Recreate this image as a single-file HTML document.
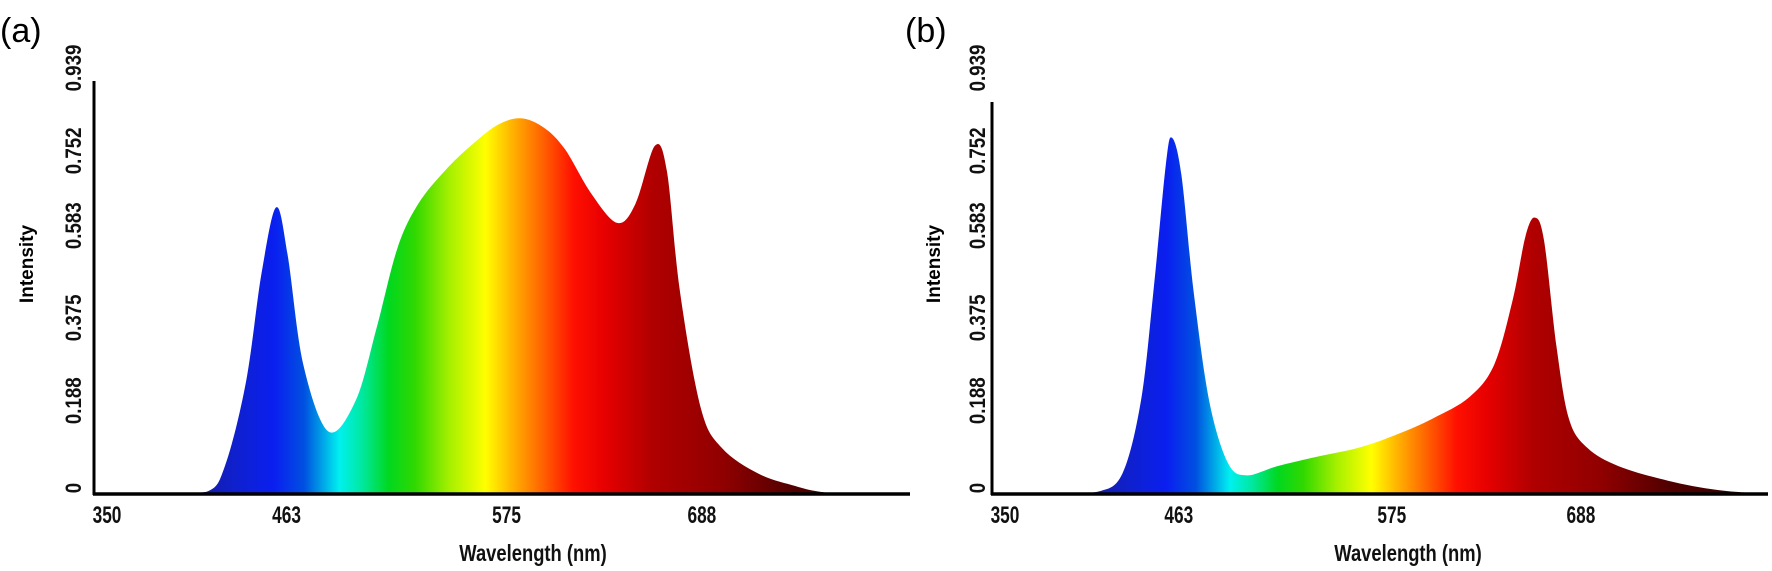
<!DOCTYPE html>
<html><head><meta charset="utf-8">
<style>
html,body{margin:0;padding:0;background:#fff;}
svg{display:block;font-family:"Liberation Sans",sans-serif;}
</style></head>
<body>
<svg id="chart" width="1772" height="571" viewBox="0 0 1772 571" xmlns="http://www.w3.org/2000/svg"></svg>
<script>
// ---- data ----
const xTicks = [350, 463, 575, 688];
const xTickPos = [350, 452, 577, 688];
const yTicks = [0, 0.188, 0.375, 0.583, 0.752, 0.939];
const wavelengthsA = [380,406.6,417,428.9,437.8,446.1,452.6,461.5,475.8,491.3,503.2,515.1,526.9,541.8,556.7,571.5,584.9,598.2,610.2,625,639.9,650.3,661.3,668.1,675.5,687.4,699.3,720.1,741,755,770,800];
const intensityA = [0,0.005,0.063,0.252,0.498,0.647,0.540,0.293,0.141,0.211,0.375,0.556,0.655,0.729,0.786,0.832,0.848,0.827,0.778,0.679,0.612,0.655,0.786,0.729,0.458,0.194,0.104,0.046,0.018,0.005,0.001,0];
const wavelengthsB = [380,404.3,418.9,429.8,437.1,444.4,448,453.5,460.7,469.8,480.7,491.7,509.9,531.7,557.2,579,600.8,622.6,637.2,648.1,655.4,660.9,666.3,673.6,680.9,691.8,710,739.1,768.2,797.3];
const intensityB = [0,0.005,0.046,0.211,0.457,0.745,0.804,0.72,0.457,0.211,0.071,0.042,0.063,0.083,0.104,0.133,0.170,0.219,0.293,0.441,0.581,0.624,0.573,0.334,0.170,0.104,0.063,0.030,0.009,0];

const NS = "http://www.w3.org/2000/svg";
const svg = document.getElementById('chart');
function mk(tag, attrs, parent){const e=document.createElementNS(NS,tag);for(const k in attrs)e.setAttribute(k,attrs[k]);(parent||svg).appendChild(e);return e;}

const panels = [
  {id:'a', label:'(a)', axisX:94, axisTop:81, axisRight:910, x0:107, k:1.760, lx:0, ly:42, titleX:533, intX:26, lblX:73, wl:wavelengthsA, iv:intensityA},
  {id:'b', label:'(b)', axisX:992, axisTop:102, axisRight:1768, x0:1005, k:1.704, lx:905, ly:42, titleX:1408, intX:933, lblX:977, wl:wavelengthsB, iv:intensityB}
];
const baseY = 494;
function yS(v){return baseY - v*443;}

const stops = [[395,'#1a1a90'],[420,'#1020c8'],[445,'#0a1ff0'],[462,'#0050e0'],[474,'#00b0e8'],[482,'#00f0f0'],[495,'#00e8a0'],[510,'#00d820'],[525,'#30d800'],[545,'#a8f000'],[565,'#ffff00'],[580,'#ffb400'],[598,'#ff6000'],[615,'#ff1000'],[632,'#e80000'],[660,'#b00000'],[700,'#900000'],[740,'#500000'],[800,'#2a0000']];

const defs = mk('defs',{});
panels.forEach(p=>{
  const xS = w => p.x0 + (w-350)*p.k;
  const g = mk('linearGradient',{id:'grad-'+p.id,gradientUnits:'userSpaceOnUse',x1:xS(350),y1:0,x2:xS(810),y2:0},defs);
  stops.forEach(s=>{mk('stop',{offset:((s[0]-350)/460).toFixed(4),'stop-color':s[1]},g);});

  const grp = mk('g',{});
  
  

  const pts = p.wl.map((w,i)=>[xS(w), yS(p.iv[i])]);
  let d = `M${pts[0][0]},${baseY} L${pts[0][0]},${pts[0][1]}`;
  for(let i=0;i<pts.length-1;i++){
    const p0=pts[Math.max(0,i-1)],p1=pts[i],p2=pts[i+1],p3=pts[Math.min(pts.length-1,i+2)];
    const c1=[p1[0]+(p2[0]-p0[0])/6, p1[1]+(p2[1]-p0[1])/6];
    const c2=[p2[0]-(p3[0]-p1[0])/6, p2[1]-(p3[1]-p1[1])/6];
    d+=` C${c1[0].toFixed(1)},${Math.min(baseY,c1[1]).toFixed(1)} ${c2[0].toFixed(1)},${Math.min(baseY,c2[1]).toFixed(1)} ${p2[0].toFixed(1)},${p2[1].toFixed(1)}`;
  }
  d+=` L${pts[pts.length-1][0]},${baseY} Z`;
  const area = mk('path',{d:d,fill:'url(#grad-'+p.id+')'},grp);
  
  

  const ya = mk('line',{x1:p.axisX,y1:p.axisTop,x2:p.axisX,y2:baseY+1,stroke:'#000','stroke-width':3},grp);
  
  
  const xa = mk('line',{x1:p.axisX-1,y1:baseY,x2:p.axisRight,y2:baseY,stroke:'#000','stroke-width':3.5},grp);
  
  

  xTicks.forEach((t,i)=>{
    const px = xS(xTickPos[i]);
    const tx = mk('text',{x:px,y:523,'text-anchor':'middle','font-size':24,'font-weight':'bold',fill:'#111',transform:`translate(${px},0) scale(0.72,1) translate(${-px},0)`},grp);
    tx.textContent=t;
    
    
  });
  yTicks.forEach(t=>{
    const cy = yS(t) - (t===0?6:10);
    const ty = mk('text',{x:0,y:0,'text-anchor':'middle','font-size':22,'font-weight':'bold',fill:'#111',transform:`translate(${p.lblX+8},${cy}) rotate(-90) scale(0.85,1)`},grp);
    ty.textContent = t===0 ? '0' : t.toFixed(3);
    
    
  });
  const yt = mk('text',{x:0,y:0,'text-anchor':'middle','font-size':19,'font-weight':'bold',transform:`translate(${p.intX+7},${264}) rotate(-90)`},grp);
  yt.textContent='Intensity';
  
  
  const xt = mk('text',{x:p.titleX,y:561,'text-anchor':'middle','font-size':23,'font-weight':'bold',fill:'#111',transform:`translate(${p.titleX},0) scale(0.8,1) translate(${-p.titleX},0)`},grp);
  xt.textContent='Wavelength  (nm)';
  xt.setAttribute('xml:space','preserve');
  
  
  const pl = mk('text',{x:p.lx,y:p.ly,'font-size':34},grp);
  pl.textContent=p.label;
  
  
});
</script>
</body></html>
